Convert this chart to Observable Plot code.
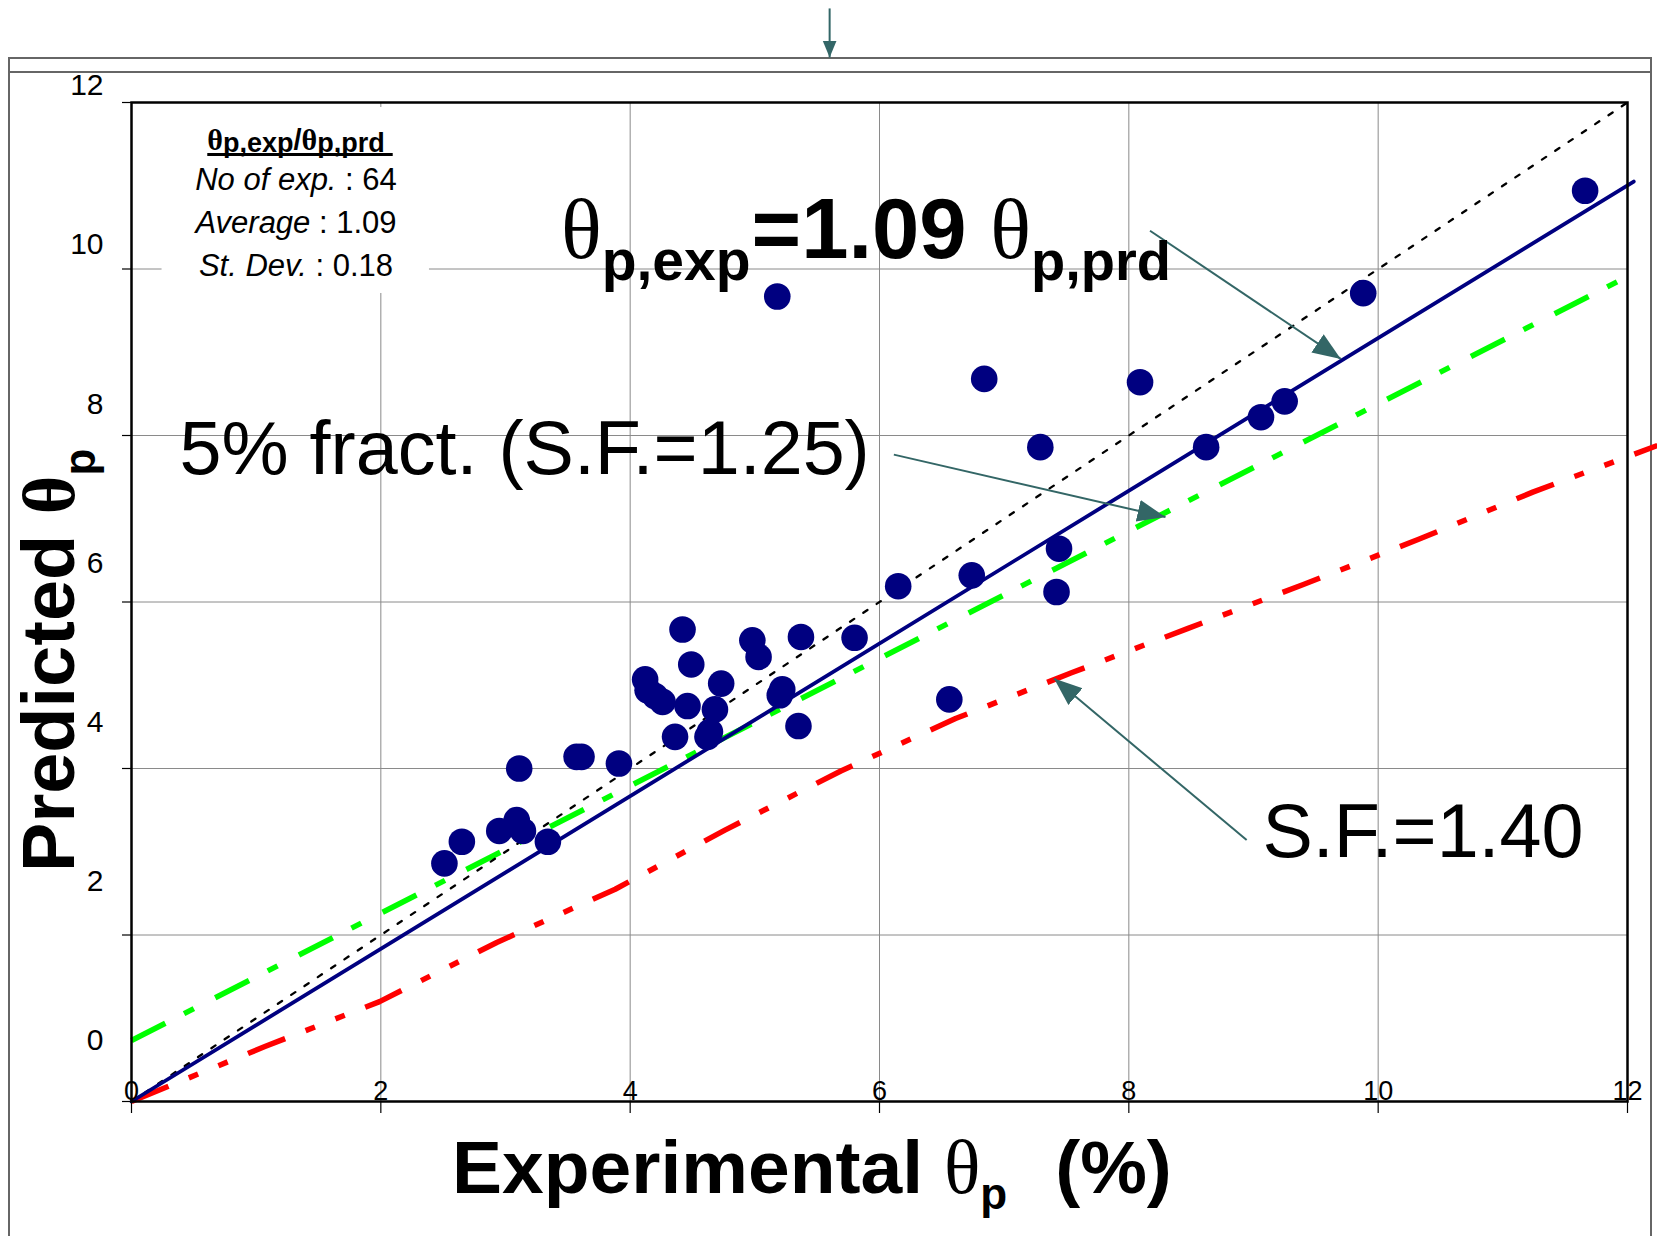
<!DOCTYPE html>
<html>
<head>
<meta charset="utf-8">
<script src="https://cdn.jsdelivr.net/npm/d3@7"></script>
<script src="https://cdn.jsdelivr.net/npm/@observablehq/plot@0.6"></script>
<style>
  html, body { margin: 0; padding: 0; background: #ffffff; }
  #wrap { position: relative; width: 1657px; height: 1236px; overflow: hidden; background: #fff; }
  #wrap svg { position: absolute; left: 0; top: 0; }
  .edge { position: absolute; background: #666666; }
</style>
</head>
<body>
<div id="wrap">
  <div class="edge" style="left:8px;top:57px;width:1644px;height:1.5px"></div>
  <div class="edge" style="left:8px;top:71px;width:1644px;height:1.5px"></div>
  <div class="edge" style="left:8px;top:57px;width:1.5px;height:1179px"></div>
  <div class="edge" style="left:1650px;top:57px;width:1.5px;height:1179px"></div>
</div>
<script>
// ---------------- data ----------------
// experimental vs predicted theta_p (%)
const expX = [11.66, 9.88, 5.18, 6.84, 8.09, 9.25, 9.06, 7.29, 8.62, 7.44, 6.74, 6.15, 7.42, 4.42, 4.98, 5.37, 5.80, 5.03, 4.49, 4.12, 4.14, 4.20, 4.26, 4.73, 4.46, 4.68, 5.22, 5.20, 5.35, 4.36, 4.64, 4.62, 6.56, 3.57, 3.61, 3.91, 3.11, 3.09, 2.95, 3.14, 3.34, 2.65, 2.51];
const prdY = [10.94, 9.71, 9.67, 8.68, 8.64, 8.41, 8.22, 7.86, 7.86, 6.64, 6.32, 6.19, 6.12, 5.67, 5.54, 5.58, 5.57, 5.34, 5.25, 5.07, 4.94, 4.87, 4.80, 5.02, 4.75, 4.71, 4.95, 4.88, 4.51, 4.38, 4.44, 4.38, 4.83, 4.14, 4.14, 4.06, 4.00, 3.38, 3.25, 3.25, 3.12, 3.12, 2.86];

// 1:1 line (black dotted)
const idealX = [0, 12.05];
const idealY = [0, 12.05];
// fit line theta_exp = 1.09 theta_prd (navy)
const fitX = [0, 12.05];
const fitY = [0, 11.05];
// 5% fractile (S.F.=1.25) (green)
const fract5X = [0, 12.04];
const fract5Y = [0.733, 9.94];
// S.F.=1.40 (red)
const sf140X = [0, 1.07, 1.99, 2.93, 3.88, 4.76, 5.69, 6.61, 7.54, 8.47, 9.40, 10.32, 11.24, 12.24];
const sf140Y = [0, 0.66, 1.20, 1.91, 2.55, 3.26, 3.97, 4.60, 5.15, 5.68, 6.21, 6.75, 7.32, 7.88];

const xTicks = [0, 2, 4, 6, 8, 10, 12];
const yTicks = [0, 2, 4, 6, 8, 10, 12];
const gridTicks = [2, 4, 6, 8, 10];

// annotation arrows inside the chart (data units): start -> tip
const arrowX1 = [8.17, 6.115, 8.945];
const arrowY1 = [10.46, 7.77, 3.14];
const arrowX2 = [9.70, 8.294, 7.40];
const arrowY2 = [8.92, 7.02, 5.08];
// small arrow above the frame
const topArrow = [{x1: 5.60, y1: 13.13, x2: 5.60, y2: 12.54}];

const statsLabels = ["No of exp.", "Average", "St. Dev."];
const statsValues = [" : 64", " : 1.09", " : 0.18"];
const fractLabel = "5% fract. (S.F.=1.25)";
const sfLabel = "S.F.=1.40";

// ---------------- build ----------------
const fSans = "'Liberation Sans', Arial, sans-serif";
const fSerif = "'Liberation Serif', 'Times New Roman', serif";

const points = expX.map((x, i) => ({x, y: prdY[i]}));
const toRows = (xs, ys) => xs.map((x, i) => ({x, y: ys[i]}));
const arrows = arrowX1.map((x1, i) => ({x1, y1: arrowY1[i], x2: arrowX2[i], y2: arrowY2[i]}));
const statsBox = [{x1: 0.245, x2: 2.39, y1: 9.706, y2: 11.94}];
const textNotes = [
  {x: 0.385, y: 7.543, t: fractLabel},
  {x: 9.072, y: 2.931, t: sfLabel}
];

const plot = Plot.plot({
  width: 1657,
  height: 1236,
  marginLeft: 131,
  marginRight: 30,
  marginTop: 102,
  marginBottom: 135,
  x: {domain: [0, 12]},
  y: {domain: [0, 12]},
  style: {fontFamily: fSans, background: "transparent", overflow: "visible", color: "black"},
  marks: [
    Plot.gridX({ticks: gridTicks, stroke: "#8a8a8a", strokeOpacity: 1, strokeWidth: 1}),
    Plot.gridY({ticks: gridTicks, stroke: "#8a8a8a", strokeOpacity: 1, strokeWidth: 1}),
    Plot.rect(statsBox, {x1: "x1", x2: "x2", y1: "y1", y2: "y2", fill: "white"}),
    Plot.line(toRows(sf140X, sf140Y), {x: "x", y: "y", stroke: "#ff0000", strokeWidth: 5.5, strokeDasharray: "40,22,10,22,10,22", strokeLinecap: "butt"}),
    Plot.line(toRows(fract5X, fract5Y), {x: "x", y: "y", stroke: "#00ff00", strokeWidth: 5.5, strokeDasharray: "38,21,11,24", strokeLinecap: "butt"}),
    Plot.line(toRows(idealX, idealY), {x: "x", y: "y", stroke: "black", strokeWidth: 2.3, strokeDasharray: "5,11"}),
    Plot.line(toRows(fitX, fitY), {x: "x", y: "y", stroke: "#000080", strokeWidth: 3.8}),
    Plot.dot(points, {x: "x", y: "y", r: 13.3, fill: "#000080", stroke: "none"}),
    Plot.frame({stroke: "black", strokeWidth: 2.5}),
    Plot.axisX({ticks: xTicks, tickSize: 12, tickFormat: () => "", label: null, strokeWidth: 1.2}),
    Plot.axisY({ticks: yTicks, tickSize: 9, tickFormat: () => "", label: null, strokeWidth: 1.2}),
    Plot.text(xTicks, {x: d => d, text: d => String(d), frameAnchor: "bottom", lineAnchor: "bottom", dy: -2, fontSize: 27, fill: "black"}),
    Plot.text(yTicks, {y: d => 0.73 + 0.956 * d, text: d => String(d), frameAnchor: "left", dx: -28, textAnchor: "end", fontSize: 30, fill: "black"}),
    Plot.text(textNotes, {x: "x", y: "y", text: "t", textAnchor: "start", lineAnchor: "bottom", fontSize: 75.5, fill: "black"}),
    Plot.link(arrows, {x1: "x1", y1: "y1", x2: "x2", y2: "y2", stroke: "#336666", strokeWidth: 2, markerEnd: "arrow"}),
    Plot.link(topArrow, {x1: "x1", y1: "y1", x2: "x2", y2: "y2", stroke: "#336667", strokeWidth: 2, markerEnd: "arrow"})
  ]
});

document.getElementById("wrap").appendChild(plot);

const svg = d3.select(plot);
// filled triangular arrowheads
svg.selectAll("marker").each(function () {
  const m = d3.select(this);
  const c = m.attr("stroke") || "#336666";
  const small = c.toLowerCase() === "#336667";
  const L = small ? 17 : 28, H = small ? 7 : 11;
  m.attr("viewBox", `${-L} ${-H - 1} ${L + 2} ${2 * H + 2}`)
    .attr("markerWidth", L + 2)
    .attr("markerHeight", 2 * H + 2)
    .attr("markerUnits", "userSpaceOnUse")
    .attr("refX", 0).attr("refY", 0)
    .attr("fill", c).attr("stroke", "none");
  m.selectAll("*").remove();
  m.append("path").attr("d", `M${-L},${-H}L0,0L${-L},${H}Z`);
});

const X = plot.scale("x"), Y = plot.scale("y");
function addText(x, y, parts, opts = {}) {
  const px = X.apply(x), py = Y.apply(y);
  const t = svg.append("text")
    .attr("text-anchor", opts.anchor || "start")
    .attr("fill", "black")
    .style("white-space", "pre")
    .attr("transform", `translate(${px},${py})` + (opts.rotate ? ` rotate(${opts.rotate})` : ""));
  for (const p of parts) {
    const s = t.append("tspan").text(p.t)
      .attr("font-family", p.ff || fSans)
      .attr("font-size", p.fs)
      .attr("font-weight", p.fw || "normal")
      .attr("font-style", p.fi ? "italic" : "normal");
    if (p.dy) s.attr("dy", p.dy);
    if (p.dx) s.attr("dx", p.dx);
  }
  return t;
}

// big equation
addText(3.449, 10.126, [
  {t: "θ", ff: fSerif, fs: 85},
  {t: "p,exp", fs: 57, fw: "bold", dy: 22},
  {t: "=1.09 ", fs: 85, fw: "bold", dy: -22, dx: 1},
  {t: "θ", ff: fSerif, fs: 85},
  {t: "p,prd", fs: 56, fw: "bold", dy: 22}
]);

// stats box
const title = addText(1.3235, 11.423, [
  {t: "θ", ff: fSerif, fs: 30, fw: "bold"},
  {t: "p,exp", fs: 27, fw: "bold", dy: 2},
  {t: "/", fs: 29, fw: "bold", dy: -2},
  {t: "θ", ff: fSerif, fs: 30, fw: "bold"},
  {t: "p,prd", fs: 27, fw: "bold", dy: 2}
], {anchor: "middle"});
const bb = title.node().getBBox();
const ty = Y.apply(11.423);
svg.append("line")
  .attr("x1", X.apply(1.3235) + bb.x).attr("x2", X.apply(1.3235) + bb.x + bb.width + 8)
  .attr("y1", ty + 4.5).attr("y2", ty + 4.5)
  .attr("stroke", "black").attr("stroke-width", 3);
const statsYs = [10.943, 10.426, 9.910];
statsLabels.forEach((lab, i) => {
  addText(1.3235, statsYs[i], [
    {t: lab, fs: 31, fi: true},
    {t: statsValues[i], fs: 31}
  ], {anchor: "middle"});
});

// axis titles
addText(-0.457, 2.751, [
  {t: "Predicted ", fs: 74, fw: "bold"},
  {t: "θ", ff: fSerif, fs: 74, fw: "bold"},
  {t: "p", fs: 44, fw: "bold", dy: 21}
], {rotate: -90});
addText(2.575, -1.105, [
  {t: "Experimental ", fs: 75, fw: "bold"},
  {t: "θ", ff: fSerif, fs: 76},
  {t: "p", fs: 44, fw: "bold", dy: 16},
  {t: "(%)", fs: 75, fw: "bold", dy: -16, dx: 48}
]);
</script>
</body>
</html>
